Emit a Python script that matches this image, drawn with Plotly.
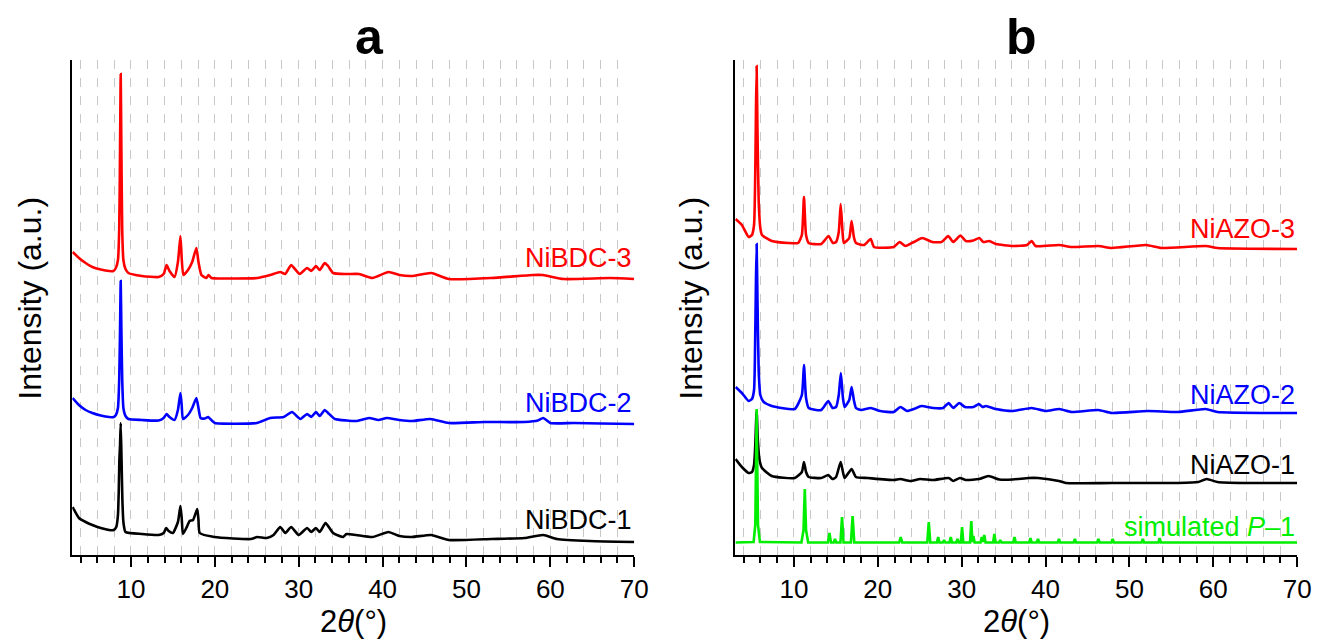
import plotly.graph_objects as go

# ---------------- data (2theta in degrees, intensity in arbitrary units) ----------------
nibdc3 = [(3.05,303),(3.8,297),(4.6,292),(5.4,288),(6.4,285.5),(7.4,284),(7.9,284),(8.2,287),(8.45,295),
          (8.6,325),(8.7,405),(8.78,481),(8.86,405),(8.96,325),(9.1,295),(9.35,286),(9.7,282),(11.3,279),
          (13.3,278),(13.9,281),(14.25,290),(14.6,284),(15.2,278),(15.6,293),(15.9,319),(16.05,297),
          (16.25,280),(16.8,285),(17.3,293),(17.8,307),(18.05,293),(18.4,280),(19.0,277),(19.25,280),
          (19.6,277),(22.0,276.5),(25.05,277),(26.6,280),(27.8,283),(28.4,281),(29.1,290),(30.1,281),
          (31.0,287),(31.5,284),(32.05,289),(32.5,285),(33.1,292),(33.5,289),(34.1,282),(35.7,281),
          (37.2,281),(38.8,277),(40.7,283),(42.0,280),(43.5,279),(45.8,282),(47.9,276),(53.0,277),
          (57.9,280),(59.1,280),(61.6,276),(67.1,277),(70.0,276)]

nibdc2 = [(3.05,157),(3.8,150),(4.6,145),(5.4,142),(6.4,139.5),(7.4,138),(7.95,138),(8.2,140),(8.45,147),
          (8.6,175),(8.7,225),(8.78,274),(8.86,225),(8.96,175),(9.1,147),(9.35,139),(9.7,136),(11.3,135),
          (13.3,134.5),(13.9,137),(14.25,141),(14.6,138),(15.2,135),(15.6,145),(15.9,162),(16.05,150),
          (16.2,136),(16.8,140),(17.3,147),(17.8,157),(18.05,147),(18.3,137),(18.8,136.5),(19.2,138),
          (19.7,134),(20.0,132),(25.0,132),(26.6,137),(28.2,138),(29.2,143),(30.2,136),(31.0,141),
          (31.5,138),(32.05,143),(32.5,139),(33.1,145),(33.5,142),(34.3,136),(35.7,134.5),(36.85,134),
          (38.4,137),(39.5,135),(40.5,137),(42.0,135),(43.5,134),(45.7,136),(47.9,132),(52.2,133),
          (56.9,133),(58.5,134.5),(59.15,137),(60.0,132),(62.8,132),(66.0,131.5),(70.0,131)]

nibdc1 = [(3.05,48),(3.8,37),(4.6,33),(5.4,30),(6.4,27),(7.4,25),(7.95,25),(8.25,28),(8.45,40),(8.55,65),
          (8.62,95),(8.7,110),(8.78,132),(8.88,95),(8.98,55),(9.1,33),(9.35,23),(11.3,21),(13.3,20),
          (13.9,22),(14.2,27),(14.5,24),(15.0,22),(15.6,33),(15.9,49),(16.05,37),(16.2,21),(16.6,27),
          (17.0,34),(17.4,35),(17.9,46),(18.05,35),(18.2,22),(19.95,18),(24.3,16),(25.05,18),(26.2,17),
          (27.0,20),(27.8,28),(28.4,22),(29.1,28),(30.0,20),(31.0,27),(31.5,23),(32.05,27),(32.5,23),
          (33.2,32),(34.1,22),(35.3,18),(35.7,21),(36.85,20),(38.8,18),(40.7,23),(42.0,19),(43.5,18),
          (45.8,20),(47.9,15),(53.0,16),(56.9,17),(59.15,20),(60.8,16),(64.7,14),(70.0,13)]

niazo3 = [(3.05,336),(3.8,330),(4.6,318),(5.0,320),(5.25,330),(5.4,385),(5.48,445),(5.56,489),(5.66,425),
          (5.8,355),(6.0,327),(6.2,320),(7.36,314),(9.33,312),(10.5,312),(10.95,320),(11.2,358),(11.45,320),
          (11.77,312),(13.26,311),(14.13,319),(14.64,312),(15.03,313),(15.35,323),(15.58,351),(15.8,323),
          (15.95,312),(16.6,317),(16.88,334),(17.15,318),(17.4,312),(18.37,310),(19.16,316),(19.55,308),
          (21.9,308),(22.6,313),(23.3,309),(24.3,313),(25.3,317),(26.5,313),(27.6,313),(28.4,319),
          (29.0,313),(29.85,319.5),(30.5,314),(31.4,314.5),(32.1,317),(32.6,313),(33.3,314),(34.1,311),
          (36.1,309),(37.8,310),(38.35,314),(38.8,309),(41.6,310),(43.1,308),(46.3,309),(47.9,307),
          (52.0,310),(53.8,307),(59.1,309),(60.5,307),(70.0,306)]

niazo2 = [(3.05,168),(3.8,162),(4.6,154),(5.0,156),(5.25,165),(5.4,225),(5.48,275),(5.56,311),(5.66,255),
          (5.8,185),(6.0,160),(6.4,153),(7.36,149),(10.1,146),(10.95,160),(11.2,190),(11.45,157),(11.77,147),
          (13.26,145),(14.1,154),(14.6,147),(15.03,148),(15.35,160),(15.6,182),(15.85,157),(16.05,148),
          (16.6,155),(16.88,168),(17.15,155),(17.4,147),(18.0,145),(19.16,147),(20.3,144),(21.9,143),
          (22.7,148),(23.5,144),(24.3,146),(25.2,149),(26.6,147),(27.8,147),(28.45,152),(29.0,147),
          (29.7,152),(30.4,148),(31.4,148),(32.05,151),(32.5,148),(32.9,149),(34.1,146),(36.1,144),
          (38.35,147),(40.0,144),(41.65,146),(43.1,143),(46.3,145),(47.9,142),(52.2,144),(55.8,143),
          (59.1,146),(60.5,143),(70.0,142)]

niazo1 = [(3.05,96),(3.8,88),(4.6,82),(5.0,83),(5.25,90),(5.4,110),(5.56,144),(5.7,115),(5.9,95),(6.2,87),
          (7.36,79),(10.1,77),(10.95,83),(11.2,93),(11.45,83),(11.77,78),(13.26,77),(14.1,80),(14.6,76),
          (15.03,78),(15.58,93),(16.05,77),(16.88,86),(17.4,78),(18.8,77),(21.9,75),(22.7,76),(23.9,74),
          (25.05,76),(26.6,75),(28.45,77),(29.0,74),(29.8,77),(30.5,75),(32.1,76),(33.2,79),(34.5,75.5),
          (36.1,75.5),(38.0,77),(39.1,77),(41.6,74),(42.4,72),(47.9,72),(55.8,72),(58.2,73),(59.2,76),
          (60.5,73),(63.6,72),(70.0,72)]

simulated = [(3.05,12.5),(5.2,13),(5.4,30),(5.5,100),(5.56,146),(5.62,100),(5.72,30),(5.95,13),
             (10.9,12.5),(11.15,25),(11.3,66),(11.45,25),(11.7,12.5),
             (14.05,12.5),(14.24,22),(14.42,12.5),(14.75,12.5),(14.9,16),(15.05,12.5),
             (15.55,12.5),(15.74,38),(15.92,12.5),(16.8,12.5),(17.0,39),(17.2,12.5),
             (22.55,12.5),(22.74,18),(22.92,12.5),(25.9,12.5),(26.08,33),(26.26,12.5),
             (27.05,12.5),(27.2,18),(27.35,12.5),(27.75,12.5),(27.9,15),(28.05,12.5),
             (28.55,12.5),(28.7,18),(28.85,12.5),(29.35,12.5),(29.5,16),(29.65,12.5),
             (29.9,12.5),(30.05,28),(30.2,12.5),(31.0,12.5),(31.15,34),(31.28,13),(31.4,19),(31.55,12.5),
             (32.25,12.5),(32.4,18),(32.55,13),(32.7,20),(32.85,12.5),(33.75,12.5),(33.9,21),(34.05,12.5),
             (34.45,12.5),(34.6,15),(34.75,12.5),(36.15,12.5),(36.3,18),(36.45,12.5),
             (38.05,12.5),(38.2,17),(38.35,12.5),(38.95,12.5),(39.1,16),(39.25,12.5),
             (41.45,12.5),(41.6,16),(41.75,12.5),(43.35,12.5),(43.5,16),(43.65,12.5),
             (46.15,12.5),(46.3,16),(46.45,12.5),(47.85,12.5),(48.0,16),(48.15,12.5),
             (51.45,12.5),(51.6,16),(51.75,12.5),(53.45,12.5),(53.6,17),(53.75,12.5),(70.0,12.5)]

labels_a = ["NiBDC-1", "NiBDC-2", "NiBDC-3"]
labels_b = ["simulated <i>P</i>–1", "NiAZO-1", "NiAZO-2", "NiAZO-3"]
label_y_a = [35, 152, 297]          # intensity level of label centre
label_y_b = [28, 90, 160, 326]
colors_a = ["#000000", "#0000ff", "#ff0000"]
colors_b = ["#00ee00", "#000000", "#0000ff", "#ff0000"]

# ---------------- figure ----------------
W, H = 1328, 641
FONT = "Liberation Sans, Arial, sans-serif"
fig = go.Figure()

def add(series, color, axis, shape="spline"):
    xs = [p[0] for p in series]
    ys = [p[1] for p in series]
    line = dict(color=color, width=2.6, shape=shape)
    if shape == "spline":
        line["smoothing"] = 0.5
    fig.add_trace(go.Scatter(x=xs, y=ys, mode="lines", line=line,
                             xaxis="x" if axis == 1 else "x2", yaxis="y" if axis == 1 else "y2",
                             showlegend=False, hoverinfo="skip"))

for s, c in zip([nibdc1, nibdc2, nibdc3], colors_a):
    add(s, c, 1)
add(niazo1, "#000000", 2)
add(simulated, "#00ee00", 2, shape="linear")
add(niazo2, "#0000ff", 2)
add(niazo3, "#ff0000", 2)

grid = dict(showgrid=True, gridcolor="#c8c8c8", gridwidth=1, griddash="dash")
xcommon = dict(range=[3, 70], tick0=0, dtick=10, ticks="outside", ticklen=10, tickwidth=2,
               tickcolor="black", showline=True, linecolor="black", linewidth=2, zeroline=False,
               tickfont=dict(family=FONT, size=26, color="black"),
               minor=dict(dtick=2, tick0=0, ticks="outside", ticklen=6, tickwidth=2, tickcolor="black",
                          **grid),
               **grid)
ycommon = dict(range=[0, 495], showticklabels=False, ticks="", showgrid=False, zeroline=False,
               showline=True, linecolor="black", linewidth=2, domain=[0, 1])

fig.update_layout(
    width=W, height=H, autosize=False, margin=dict(l=0, r=0, t=60, b=86),
    paper_bgcolor="white", plot_bgcolor="white",
    xaxis=dict(domain=[73 / W, 641 / W], anchor="y", **xcommon),
    xaxis2=dict(domain=[743 / W, 1311 / W], anchor="y2", **xcommon),
    yaxis=dict(anchor="x", **ycommon),
    yaxis2=dict(anchor="x2", **ycommon),
)

ann = []
for t, yv, c in zip(labels_a, label_y_a, colors_a):
    ann.append(dict(text=t, x=70, y=yv, xref="x", yref="y", xanchor="right", yanchor="middle",
                    showarrow=False, font=dict(family=FONT, size=27, color=c)))
for t, yv, c in zip(labels_b, label_y_b, colors_b):
    ann.append(dict(text=t, x=70, y=yv, xref="x2", yref="y2", xanchor="right", yanchor="middle",
                    showarrow=False, font=dict(family=FONT, size=27, color=c)))
# panel titles
for t, xc in [("<b>a</b>", 373), ("<b>b</b>", 1032)]:
    ann.append(dict(text=t, x=xc / W, y=(555 - 37) / 495, xref="paper", yref="paper",
                    xanchor="center", yanchor="middle", showarrow=False,
                    font=dict(family=FONT, size=50, color="black")))
# axis titles
for xc in [357, 1027]:
    ann.append(dict(text="2<i>θ</i>(°)", x=xc / W, y=(555 - 621) / 495, xref="paper", yref="paper",
                    xanchor="center", yanchor="middle", showarrow=False,
                    font=dict(family=FONT, size=31, color="black")))
for xc in [30, 698]:
    ann.append(dict(text="Intensity (a.u.)", x=xc / W, y=(555 - 298) / 495, xref="paper", yref="paper",
                    xanchor="center", yanchor="middle", textangle=-90, showarrow=False,
                    font=dict(family=FONT, size=32, color="black")))
fig.update_layout(annotations=ann)

fig.write_html("out.html")
